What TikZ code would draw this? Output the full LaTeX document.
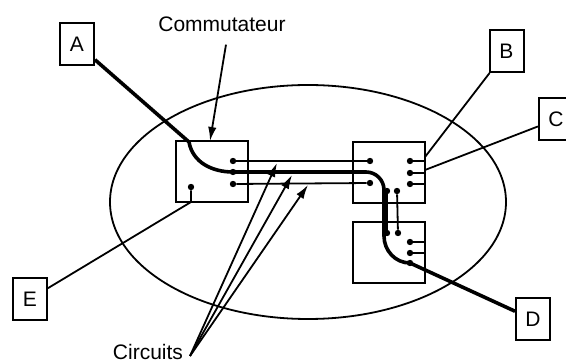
\documentclass[tikz,border=0pt]{standalone}
\usepackage{fontspec}
\setmainfont{Liberation Sans}
\usetikzlibrary{arrows.meta}
\begin{document}
\begin{tikzpicture}[x=1pt,y=-1pt,
    wire/.style={line width=1.8pt},
    trunk/.style={line width=3.6pt},
    term/.style={draw,line width=2pt,minimum width=34pt,minimum height=42pt,inner sep=0pt,font=\fontsize{21}{24}\selectfont},
    switch/.style={draw,line width=2pt,minimum width=72pt,minimum height=61pt,inner sep=0pt},
    dot/.style={circle,fill,inner sep=0pt,minimum size=6.4pt},
    lbl/.style={font=\fontsize{21}{24}\selectfont,inner sep=1pt},
    pointer/.style={line width=1.8pt,-{Latex[length=14pt,width=8.5pt]}}]
    \useasboundingbox (0,0) rectangle (566,363);
    % Network cloud
    \draw[line width=1.8pt] (308,202) ellipse (198 and 117);
    % Switches
    \node[switch] (sw1) at (212,172) {};
    \node[switch] (sw2) at (389,172.5) {};
    \node[switch] (sw3) at (389,252.5) {};
    % Terminals
    \node[term] (A) at (77,44) {A};
    \node[term] (B) at (506.5,51) {B};
    \node[term] (C) at (556,119.5) {C};
    \node[term] (D) at (533,319.5) {D};
    \node[term] (E) at (30,299) {E};
    % Ports of the left switch
    \node[dot] (l1) at (233,161) {};
    \node[dot] (l2) at (233,172) {};
    \node[dot] (l3) at (233,184) {};
    \node[dot] (le) at (191,187) {};
    % Ports of the right switch
    \node[dot] (r1) at (370,161) {};
    \node[dot] (r3) at (370,183) {};
    \node[dot] (ro1) at (410,161) {};
    \node[dot] (ro2) at (410,173) {};
    \node[dot] (ro3) at (410,184) {};
    \node[dot] (rd1) at (387,191) {};
    \node[dot] (rd2) at (397,191) {};
    % Ports of the lower switch
    \node[dot] (m1) at (387,233) {};
    \node[dot] (m2) at (398,233) {};
    \node[dot] (mo1) at (410,242) {};
    \node[dot] (mo2) at (410,253) {};
    \node[dot] (mo3) at (410,263) {};
    % Access points
    \coordinate (ain) at (189,142);
    \coordinate (eport) at (191,202);
    \coordinate (bport) at (425,157);
    \coordinate (cport) at (425,170);
    % Stubs
    \foreach \p in {ro1,ro2,ro3,mo1,mo2}
        \draw[wire] (\p.center) -- ++(15,0);
    % Circuits
    \draw[wire] (l1) -- (r1);
    \draw[wire] (l3) -- (r3);
    \draw[wire] (rd1) -- (m1);
    \draw[wire] (rd2) -- (m2);
    \draw[trunk] (A) -- (ain) to[out=-80,in=180] (l2.center) -- (366,172)
        to[out=0,in=90] (384,190) -- (384,236) to[out=-90,in=180] (mo3.center) -- (D);
    % Terminal links
    \draw[wire] (E) -- (eport) -- (le);
    \draw[wire] (B) -- (bport);
    \draw[wire] (C) -- (cport);
    % Labels
    \node[lbl] (comm) at (222,24) {Commutateur};
    \coordinate (commtip) at (210,141);
    \draw[pointer] ([xshift=4pt,yshift=-12pt]comm.south) -- (commtip);
    \node[lbl] (circ) at (148,352) {Circuits};
    \coordinate (circtail) at (190,356);
    \coordinate (ct1) at (277,163);
    \coordinate (ct2) at (292,175);
    \coordinate (ct3) at (308,185);
    \foreach \t in {ct1,ct2,ct3}
        \draw[pointer] (circtail) -- (\t);
\end{tikzpicture}
\end{document}
